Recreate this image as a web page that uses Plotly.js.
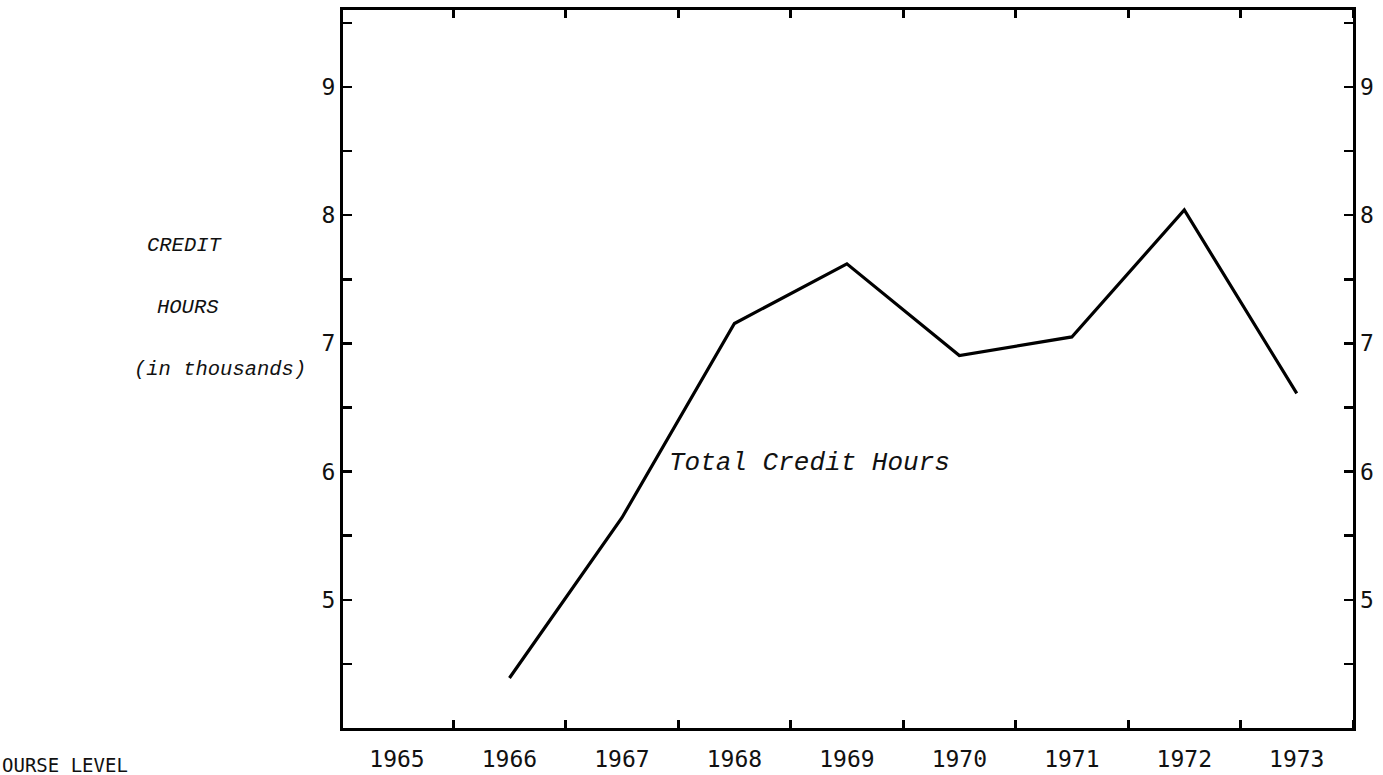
<!DOCTYPE html>
<html>
<head>
<meta charset="utf-8">
<script src="https://cdn.plot.ly/plotly-3.0.1.min.js"></script>
<style>html,body{margin:0;padding:0;background:#fff;}#chart{width:1383px;height:775px;}</style>
</head>
<body>
<div id="chart"></div>
<script>
// Data
const years = [1966, 1967, 1968, 1969, 1970, 1971, 1972, 1973];
const creditHours = [4.39, 5.64, 7.155, 7.62, 6.905, 7.05, 8.04, 6.61]; // thousands
const axisYears = [1965, 1966, 1967, 1968, 1969, 1970, 1971, 1972, 1973];
const yTickVals = [4.5, 5, 5.5, 6, 6.5, 7, 7.5, 8, 8.5, 9, 9.5];
const yTickText = ['', '5', '', '6', '', '7', '', '8', '', '9', ''];
const titleLines = ['CREDIT', 'HOURS', '(in thousands)'];
const seriesLabel = 'Total Credit Hours';
const cutLabel = 'OURSE LEVEL';

const tickFont = {family: 'DejaVu Sans Mono', size: 23, color: '#111'};
const italicFont = {family: 'Liberation Mono', size: 20.5, color: '#111'};

const traces = [
  {x: years, y: creditHours, type: 'scatter', mode: 'lines',
   line: {color: '#000', width: 3.2}, hoverinfo: 'skip', xaxis: 'x', yaxis: 'y'},
  {x: years, y: creditHours, type: 'scatter', mode: 'lines',
   line: {color: '#000', width: 0}, opacity: 0, hoverinfo: 'skip', xaxis: 'x', yaxis: 'y2'}
];

const yCommon = {
  range: [4, 9.6], tickmode: 'array', tickvals: yTickVals, ticktext: yTickText,
  ticks: 'inside', ticklen: 9, tickwidth: 2.5, tickcolor: '#000',
  showgrid: false, zeroline: false, tickfont: tickFont, fixedrange: true
};

const layout = {
  width: 1383, height: 775,
  margin: {l: 343, r: 30, t: 10, b: 47},
  paper_bgcolor: '#fff', plot_bgcolor: '#fff',
  showlegend: false,
  xaxis: {
    range: [1964.52, 1973.5], tickmode: 'array', tickvals: axisYears,
    ticktext: axisYears.map(String), ticks: '', showgrid: false, zeroline: false,
    showline: true, linewidth: 3, linecolor: '#000', mirror: 'ticks',
    tickfont: tickFont, ticklabelstandoff: 8,
    minor: {tickmode: 'linear', tick0: 1965.5, dtick: 1, ticks: 'inside',
            ticklen: 8, tickwidth: 3, tickcolor: '#000', showgrid: false}
  },
  yaxis: Object.assign({}, yCommon, {showline: true, linewidth: 3, linecolor: '#000', mirror: true, ticklabelstandoff: 0}),
  yaxis2: Object.assign({}, yCommon, {overlaying: 'y', side: 'right', showline: false, ticklabelstandoff: 6}),
  annotations: [
    {xref: 'paper', yref: 'paper', x: -0.156, y: 0.672, text: titleLines[0], showarrow: false,
     font: Object.assign({}, italicFont), xanchor: 'center', yanchor: 'middle'},
    {xref: 'paper', yref: 'paper', x: -0.153, y: 0.586, text: titleLines[1], showarrow: false,
     font: Object.assign({}, italicFont), xanchor: 'center', yanchor: 'middle'},
    {xref: 'paper', yref: 'paper', x: -0.122, y: 0.499, text: titleLines[2], showarrow: false,
     font: Object.assign({}, italicFont), xanchor: 'center', yanchor: 'middle'},
    {xref: 'x', yref: 'y', x: 1967.40, y: 6.07, text: seriesLabel, showarrow: false,
     font: {family: 'Liberation Mono', size: 26, color: '#111'}, xanchor: 'left', yanchor: 'middle'},
    {xref: 'paper', yref: 'paper', x: -0.340, y: -0.052, text: cutLabel, showarrow: false,
     font: {family: 'DejaVu Sans Mono', size: 19, color: '#111'}, xanchor: 'left', yanchor: 'middle'}
  ]
};

// italic styling for title texts
layout.annotations.slice(0, 4).forEach(a => { a.text = '<i>' + a.text + '</i>'; });

Plotly.newPlot('chart', traces, layout, {staticPlot: true, displayModeBar: false});
</script>
</body>
</html>
